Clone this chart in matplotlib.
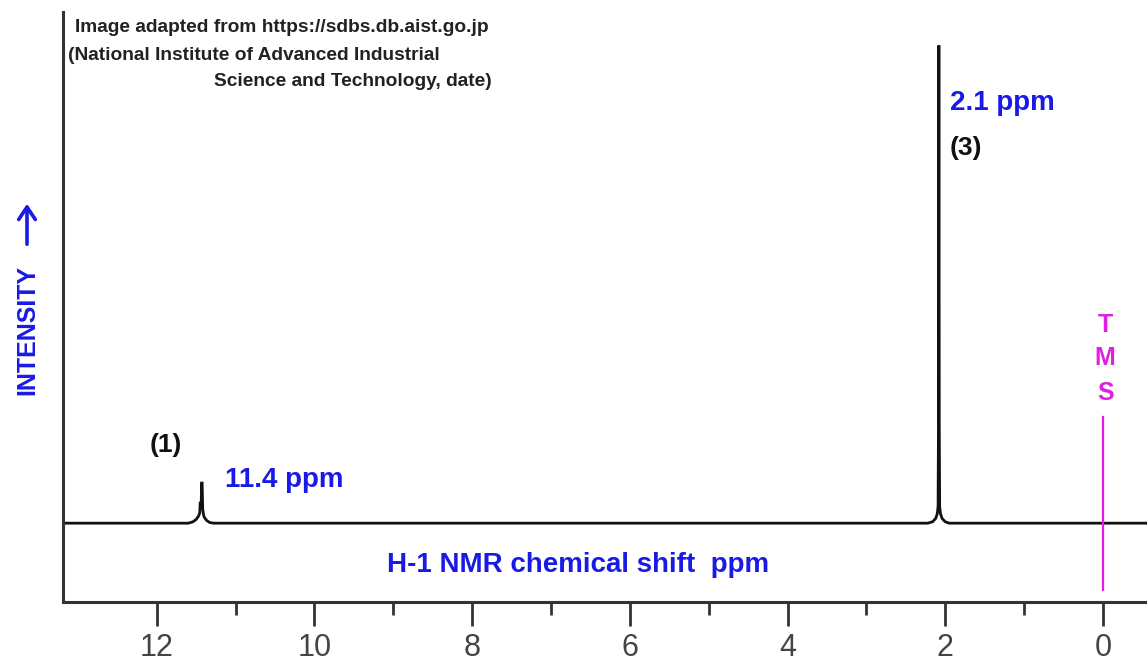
import matplotlib
matplotlib.use('Agg')
import matplotlib.pyplot as plt

# ---- Data (chemical shift ppm, relative intensity) ----
shift_ppm = [13.2, 11.60, 11.54, 11.50, 11.47, 11.455, 11.45, 11.445, 11.438,
             11.432, 11.425, 11.418, 11.41, 11.40, 11.37, 11.33, 11.28,
             2.22, 2.16, 2.12, 2.10, 2.09, 2.085, 2.08, 2.075, 2.07, 2.06,
             2.04, 2.0, 1.95, -0.6]
intensity = [0, 0, 0.3, 0.8, 1.5, 2.2, 4.2, 4.2, 3.2,
             8.4, 8.4, 3.0, 2.0, 1.3, 0.6, 0.15, 0,
             0, 0.3, 1.0, 2.0, 3.5, 20, 100, 20, 3.5, 2.0,
             1.0, 0.3, 0, 0]

major_ticks = [12, 10, 8, 6, 4, 2, 0]
minor_ticks = [11, 9, 7, 5, 3, 1]
tick_labels = ['12', '10', '8', '6', '4', '2', '0']

peak_labels = ['11.4 ppm', '2.1 ppm']
peak_groups = ['(1)', '(3)']
tms_ppm = 0.0

BLUE = '#1a1ae6'
MAGENTA = '#e020e0'
FONT = ['Liberation Sans', 'DejaVu Sans']

plt.rcParams['font.family'] = FONT

W, H = 1147, 666
fig = plt.figure(figsize=(W / 100, H / 100), dpi=100)
ax = fig.add_axes([63 / W, 1 - 602 / H, 1 - 63 / W, (602 - 12) / H])

# spectrum trace
ax.plot(shift_ppm, intensity, color='#111111', linewidth=2.0, solid_joinstyle='miter')

# TMS reference line
ax.plot([tms_ppm, tms_ppm], [22.2, -14.0], color=MAGENTA, linewidth=1.6)
for letter, y in zip('TMS', [41.4, 34.5, 27.2]):
    ax.text(tms_ppm - 0.03, y, letter, color=MAGENTA, fontsize=18, fontweight='bold',
            ha='center', va='center')

# axis limits (ppm decreasing to the right)
ax.set_xlim(13.19, -0.56)
ax.set_ylim(-16.5, 107)

# spines
for side in ['top', 'right']:
    ax.spines[side].set_visible(False)
for side in ['left', 'bottom']:
    ax.spines[side].set_linewidth(2.2)
    ax.spines[side].set_color('#333333')

ax.set_yticks([])
ax.set_xticks(major_ticks)
ax.set_xticklabels(tick_labels)
ax.set_xticks(minor_ticks, minor=True)
ax.tick_params(axis='x', which='major', length=17, width=2.0, color='#333333',
               labelsize=22, labelcolor='#444444', pad=5)
ax.tick_params(axis='x', which='minor', length=9, width=2.0, color='#333333')

# peak annotations
ax.text(11.88, 16.3, peak_groups[0], fontsize=19, fontweight='bold', color='#111111',
        ha='center', va='center')
ax.text(11.14, 9.0, peak_labels[0], fontsize=20, fontweight='bold', color=BLUE,
        ha='left', va='center')
ax.text(1.94, 87.9, peak_labels[1], fontsize=20, fontweight='bold', color=BLUE,
        ha='left', va='center')
ax.text(1.94, 78.5, peak_groups[1], fontsize=19, fontweight='bold', color='#111111',
        ha='left', va='center')

# x-axis caption inside plot
ax.text(6.66, -8.8, 'H-1 NMR chemical shift  ppm', fontsize=20, fontweight='bold',
        color=BLUE, ha='center', va='center')

# credit text (figure pixel positions)
credit_kw = dict(fontsize=13.8, fontweight='bold', color='#222222', va='center')
fig.text(75 / W, 1 - 27 / H, 'Image adapted from https://sdbs.db.aist.go.jp',
         ha='left', **credit_kw)
fig.text(68 / W, 1 - 55 / H, '(National Institute of Advanced Industrial',
         ha='left', **credit_kw)
fig.text(492 / W, 1 - 81 / H, 'Science and Technology, date)',
         ha='right', **credit_kw)

# intensity label with arrow
fig.text(27 / W, 1 - 330 / H, 'INTENSITY', rotation=90, fontsize=18,
         fontweight='bold', color=BLUE, ha='center', va='center')
fig.patches.append(matplotlib.patches.FancyArrowPatch(
    (27 / W, 1 - 247 / H), (27 / W, 1 - 201 / H), transform=fig.transFigure,
    arrowstyle='->,head_length=6,head_width=4', color=BLUE, linewidth=2.6,
    mutation_scale=1.5))

fig.savefig('out.png', dpi=100, facecolor='white')
